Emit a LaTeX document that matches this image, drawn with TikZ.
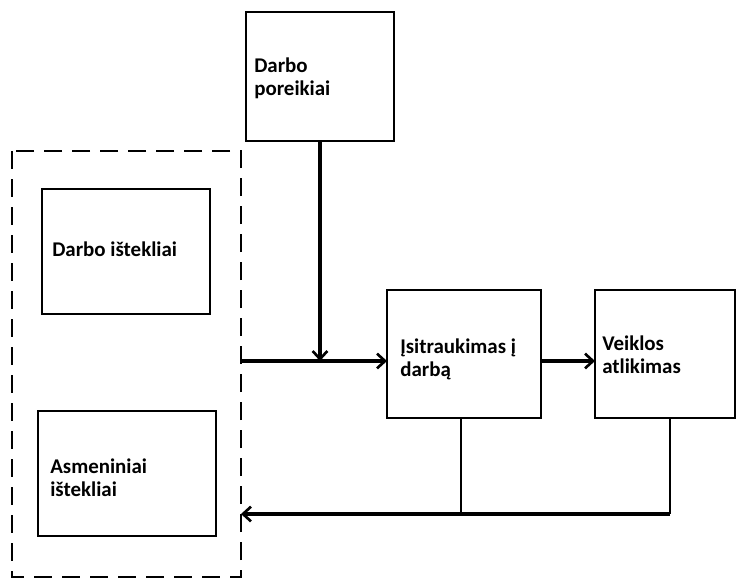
\documentclass[tikz,border=0pt]{standalone}
\usepackage{fontspec}
\setmainfont{Carlito}
\usetikzlibrary{arrows.meta}
\begin{document}
\begin{tikzpicture}[x=0.75pt,y=-0.75pt,
  box/.style={draw,line width=1.4pt,inner sep=0pt},
  lbl/.style={font=\bfseries\fontsize{15.7}{17}\selectfont,align=left,anchor=base west,inner sep=0pt},
  conn/.style={line width=2.6pt,-{Straight Barb[length=6pt,width=11pt,line width=2pt]}},
  plain/.style={line width=1.5pt}]
\useasboundingbox (0,0) rectangle (738,578);
% boxes (multi-line labels are placed at the baseline of their last line)
\draw[box] (246,12) rectangle (394,141);
\node[lbl] (tpore) at (254,95) {Darbo\\poreikiai};
\draw[line width=2.2pt,dash pattern=on 13.5pt off 7.5pt] (12,151) rectangle (241,577);
\draw[box] (42,189) rectangle (210,314);
\node[lbl] (tdi) at (52,256) {Darbo ištekliai};
\draw[box] (38,411) rectangle (216,536);
\node[lbl] (tai) at (50,496) {Asmeniniai\\ištekliai};
\draw[box] (387,290) rectangle (541,418);
\node[lbl] (tis) at (400,376) {Įsitraukimas į\\darbą};
\draw[box] (595,290) rectangle (735,418);
\node[lbl] (tve) at (602,373) {Veiklos\\atlikimas};
% coordinates
\coordinate (dl) at (241,361);
\coordinate (ir) at (387,361);
\coordinate (pb) at (320,141);
\coordinate (pj) at (320,361);
\coordinate (is) at (541,361);
\coordinate (vl) at (595,361);
\coordinate (ib) at (461,418);
\coordinate (ij) at (461,514);
\coordinate (vb) at (670,418);
\coordinate (vj) at (670,514);
\coordinate (fb) at (241,514);
% connectors
\draw[conn] (dl) -- (ir);
\draw[conn] (pb) -- (pj);
\draw[conn] (is) -- (vl);
\draw[plain] (ib) -- (ij);
\draw[plain] (vb) -- (vj);
\draw[conn] (vj) -- (fb);
\end{tikzpicture}
\end{document}
